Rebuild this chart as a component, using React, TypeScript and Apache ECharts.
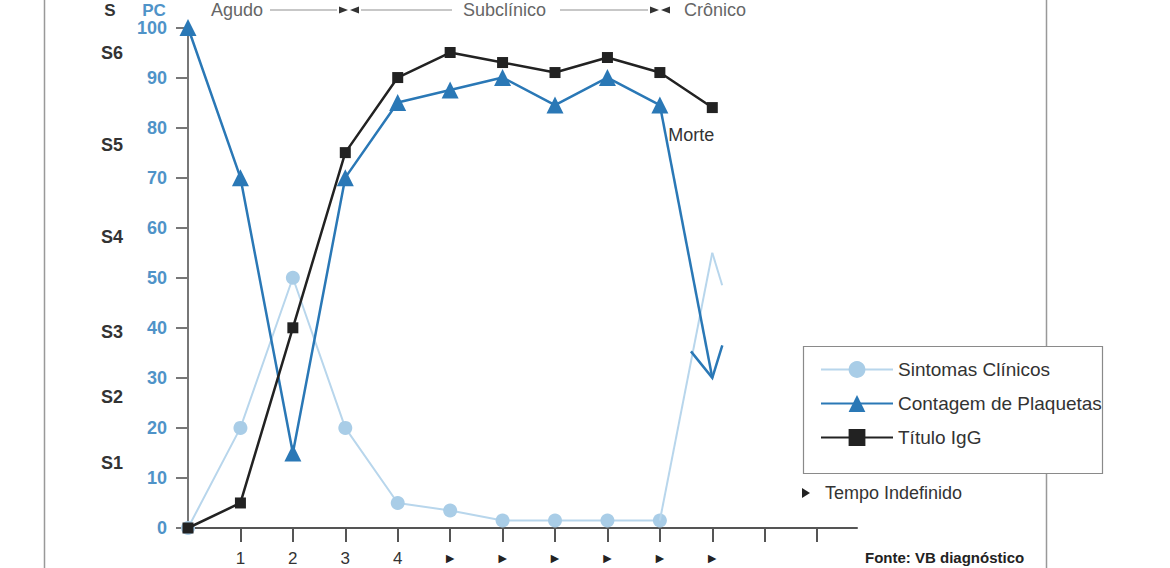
import React, { useEffect, useRef } from "react";
import * as echarts from "echarts";

// ---- data ----
const sintomas = [0, 20, 50, 20, 5, 3.5, 1.5, 1.5, 1.5, 1.5]; // x = 0..9
const sintomasEnd = 55; // arrow end at x = 10
const plaquetas = [100, 70, 15, 70, 85, 87.5, 90, 84.5, 90, 84.5]; // x = 0..9
const plaquetasEnd = 30; // arrow end at x = 10
const igg = [0, 5, 40, 75, 90, 95, 93, 91, 94, 91, 84]; // x = 0..10
const arrowStartX = 9;
const arrowEndX = 10;

const xTickValues = [1, 2, 3, 4, 5, 6, 7, 8, 9, 10, 11, 12];
const xLabelValues = [1, 2, 3, 4, 5, 6, 7, 8, 9, 10];
const xLabels = ["1", "2", "3", "4", "►", "►", "►", "►", "►", "►"];

const sLabels = ["S1", "S2", "S3", "S4", "S5", "S6"];
const sPositions = [13, 26.2, 39.2, 58.1, 76.5, 94.9];

const seriesNames = ["Sintomas Clínicos", "Contagem de Plaquetas", "Título IgG"];
const phases = ["Agudo", "Subclínico", "Crônico"];
const deathLabel = "Morte";
const noteLabel = "Tempo Indefinido";
const sourceLabel = "Fonte: VB diagnóstico";

const FONT = "'Liberation Sans', Arial, Helvetica, sans-serif";
const LIGHT = "#a9cde7";
const LIGHT_LINE = "#b8d6ec";
const BLUE = "#2a78b6";
const LABEL_BLUE = "#4f93c8";
const DARK = "#222";
const TEXT = "#333";

const HEADER_Y = 10;

export default function App() {
  const ref = useRef<HTMLDivElement>(null);

  useEffect(() => {
    if (!ref.current) return;
    const chart = echarts.init(ref.current, null, { renderer: "svg" });

    const headerText = (text: string, x: number, opts: any = {}) => ({
      type: "text",
      x,
      y: HEADER_Y,
      z: 10,
      style: {
        text,
        fill: opts.fill || "#666",
        fontSize: opts.fontSize || 18,
        fontWeight: opts.fontWeight || "normal",
        fontFamily: FONT,
        textAlign: opts.align || "left",
        textVerticalAlign: "middle",
      },
    });
    const hLine = (x1: number, x2: number) => ({
      type: "line",
      z: 10,
      shape: { x1, y1: HEADER_Y, x2, y2: HEADER_Y },
      style: { stroke: "#b5b5b5", lineWidth: 1.5 },
    });
    const bowtie = (cx: number) => [
      {
        type: "polygon",
        z: 10,
        shape: { points: [[cx - 10, HEADER_Y - 3.5], [cx - 1, HEADER_Y], [cx - 10, HEADER_Y + 3.5]] },
        style: { fill: "#333" },
      },
      {
        type: "polygon",
        z: 10,
        shape: { points: [[cx + 10, HEADER_Y - 3.5], [cx + 1, HEADER_Y], [cx + 10, HEADER_Y + 3.5]] },
        style: { fill: "#333" },
      },
    ];

    const option: any = {
      animation: false,
      backgroundColor: "#fff",
      textStyle: { fontFamily: FONT },
      grid: { left: 188, right: 313, top: 27.5, bottom: 40, containLabel: false },
      xAxis: {
        type: "value",
        min: 0,
        max: 12.76,
        interval: 1,
        splitLine: { show: false },
        axisLine: { show: true, lineStyle: { color: "#555", width: 2 } },
        axisTick: {
          show: true,
          customValues: xTickValues,
          length: 14,
          lineStyle: { color: "#555", width: 2 },
        },
        axisLabel: {
          customValues: xLabelValues,
          margin: 21,
          color: TEXT,
          fontSize: 17,
          fontFamily: FONT,
          lineHeight: 18,
          formatter: (v: number) => {
            const i = xLabelValues.indexOf(Math.round(v));
            const t = i >= 0 ? xLabels[i] : "";
            return t === "►" ? "{t|►}" : t;
          },
          rich: { t: { fontSize: 14, color: "#222", lineHeight: 18 } },
        },
      },
      yAxis: [
        {
          type: "value",
          min: 0,
          max: 100,
          interval: 10,
          position: "left",
          splitLine: { show: false },
          axisLine: { show: true, lineStyle: { color: "#777", width: 2 } },
          axisTick: { show: true, inside: false, length: 12, lineStyle: { color: "#777", width: 2 } },
          axisLabel: {
            margin: 21,
            color: LABEL_BLUE,
            fontSize: 18,
            fontWeight: "bold",
            fontFamily: FONT,
          },
        },
        {
          type: "value",
          min: 0,
          max: 100,
          position: "left",
          offset: 65,
          splitLine: { show: false },
          axisLine: { show: false },
          axisTick: { show: false },
          axisLabel: {
            customValues: sPositions,
            margin: 0,
            color: TEXT,
            fontSize: 18,
            fontWeight: "bold",
            fontFamily: FONT,
            formatter: (v: number) => {
              const i = sPositions.findIndex((p) => Math.abs(p - v) < 1e-6);
              return i >= 0 ? sLabels[i] : "";
            },
          },
        },
      ],
      legend: {
        data: seriesNames,
        orient: "vertical",
        left: 815,
        top: 355,
        itemWidth: 72,
        itemHeight: 21,
        itemGap: 15,
        z: 20,
        textStyle: { fontSize: 19, color: TEXT, fontFamily: FONT },
      },
      series: [
        {
          name: seriesNames[0],
          type: "line",
          data: sintomas.map((v, i) => [i, v]),
          symbol: "circle",
          symbolSize: 14,
          itemStyle: { color: LIGHT },
          lineStyle: { color: LIGHT_LINE, width: 2 },
          z: 2,
        },
        {
          name: seriesNames[1],
          type: "line",
          data: plaquetas.map((v, i) => [i, v]),
          symbol: "triangle",
          symbolSize: 17,
          itemStyle: { color: BLUE },
          lineStyle: { color: BLUE, width: 2.5 },
          z: 3,
        },
        {
          name: seriesNames[2],
          type: "line",
          data: igg.map((v, i) =>
            i === igg.length - 1
              ? {
                  value: [i, v],
                  label: {
                    show: true,
                    position: "inside",
                    offset: [-21, 27],
                    formatter: deathLabel,
                    color: TEXT,
                    fontSize: 18,
                    fontFamily: FONT,
                  },
                }
              : [i, v]
          ),
          symbol: "rect",
          symbolSize: 11,
          itemStyle: { color: DARK },
          lineStyle: { color: DARK, width: 2.5 },
          z: 4,
        },
        {
          name: "arrows",
          type: "custom",
          z: 3,
          encode: { x: [0, 2], y: [1, 3] },
          data: [
            [arrowStartX, sintomas[arrowStartX], arrowEndX, sintomasEnd, 0],
            [arrowStartX, plaquetas[arrowStartX], arrowEndX, plaquetasEnd, 1],
          ],
          renderItem: (params: any, api: any) => {
            const p0 = api.coord([api.value(0), api.value(1)]);
            const p1 = api.coord([api.value(2), api.value(3)]);
            const kind = api.value(4);
            const color = kind === 0 ? LIGHT_LINE : BLUE;
            const lw = kind === 0 ? 2 : 2.5;
            const ang = Math.atan2(p0[1] - p1[1], p0[0] - p1[0]);
            const spread = (28 * Math.PI) / 180;
            const len = 34;
            const armA = [p1[0] + len * Math.cos(ang - spread), p1[1] + len * Math.sin(ang - spread)];
            const armB = [p1[0] + len * Math.cos(ang + spread), p1[1] + len * Math.sin(ang + spread)];
            const style = { stroke: color, lineWidth: lw, fill: "none" };
            const children: any[] = [
              { type: "line", shape: { x1: p0[0], y1: p0[1], x2: p1[0], y2: p1[1] }, style },
            ];
            if (kind === 0) {
              children.push({ type: "line", shape: { x1: p1[0], y1: p1[1], x2: armA[0], y2: armA[1] }, style });
            } else {
              children.push({ type: "polyline", shape: { points: [armA, p1, armB] }, style });
            }
            return { type: "group", children };
          },
        },
      ],
      graphic: [
        {
          type: "line",
          z: 0,
          shape: { x1: 44.5, y1: 0, x2: 44.5, y2: 568 },
          style: { stroke: "#999", lineWidth: 1.5 },
        },
        {
          type: "line",
          z: 0,
          shape: { x1: 1046.5, y1: 0, x2: 1046.5, y2: 568 },
          style: { stroke: "#999", lineWidth: 1.5 },
        },
        {
          type: "rect",
          z: 1,
          shape: { x: 803.5, y: 346.5, width: 299, height: 127 },
          style: { fill: "#fff", stroke: "#8a8a8a", lineWidth: 1.2 },
        },
        headerText("S", 110, { fill: TEXT, fontWeight: "bold", fontSize: 17, align: "center" }),
        headerText("PC", 154, { fill: LABEL_BLUE, fontWeight: "bold", fontSize: 17, align: "center" }),
        headerText(phases[0], 211),
        hLine(270, 337),
        ...bowtie(349),
        hLine(361, 452),
        headerText(phases[1], 463),
        hLine(560, 648),
        ...bowtie(660),
        headerText(phases[2], 684),
        {
          type: "polygon",
          z: 10,
          shape: { points: [[802, 488], [810, 493], [802, 498]] },
          style: { fill: "#222" },
        },
        {
          type: "text",
          x: 825,
          y: 493,
          z: 10,
          style: {
            text: noteLabel,
            fill: TEXT,
            fontSize: 18,
            fontFamily: FONT,
            textAlign: "left",
            textVerticalAlign: "middle",
          },
        },
        {
          type: "text",
          x: 865,
          y: 550,
          z: 10,
          style: {
            text: sourceLabel,
            fill: "#222",
            fontSize: 15,
            fontWeight: "bold",
            fontFamily: FONT,
            textAlign: "left",
            textVerticalAlign: "top",
          },
        },
      ],
    };

    chart.setOption(option);
    return () => chart.dispose();
  }, []);

  return (
    <div
      ref={ref}
      style={{ position: "fixed", left: 0, top: 0, width: 1170, height: 568, background: "#fff" }}
    />
  );
}
